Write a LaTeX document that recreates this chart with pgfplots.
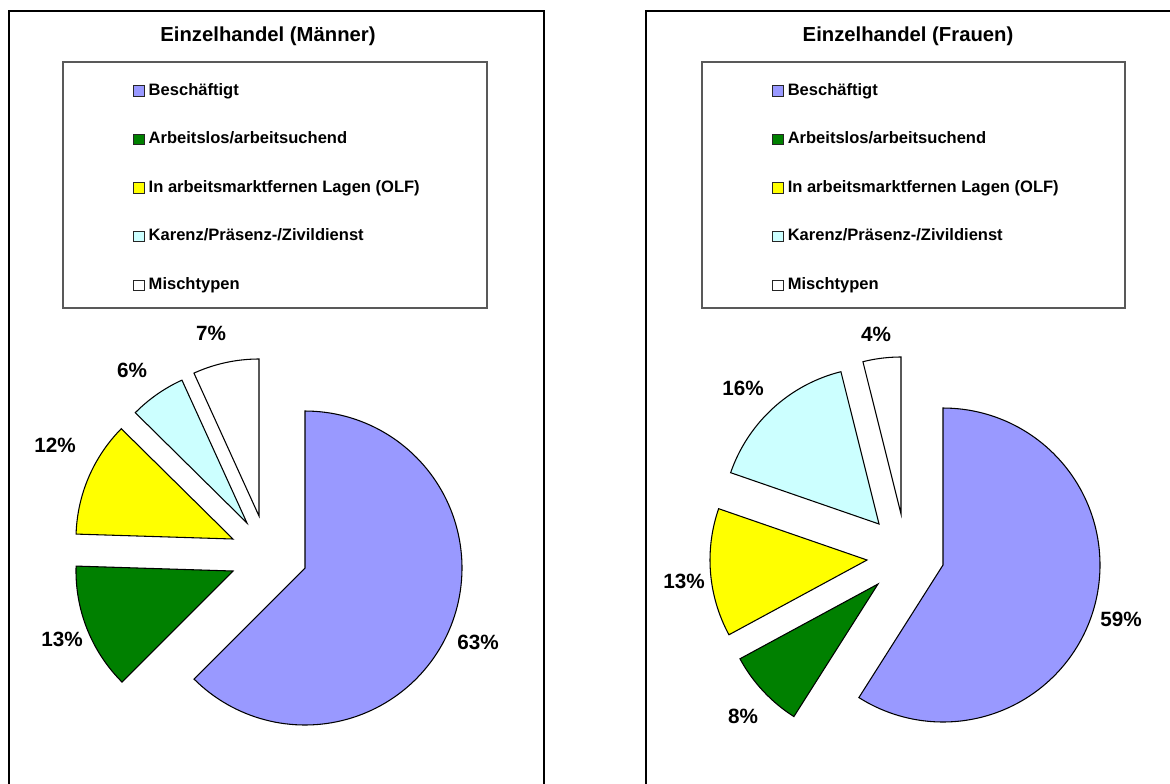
\documentclass[border=0pt]{standalone}
\usepackage{pgfplots}
\pgfplotsset{compat=1.18}
\usepackage{fontspec}
\setmainfont{Liberation Sans}
\definecolor{cB}{HTML}{9999FF}
\definecolor{cG}{HTML}{008000}
\definecolor{cY}{HTML}{FFFF00}
\definecolor{cC}{HTML}{CCFFFF}
\definecolor{cW}{HTML}{FFFFFF}
% shares in percent
% Maenner: Beschaeftigt, Arbeitslos, OLF, Karenz, Mischtypen
\def\LB{62.5}\def\LG{13.0}\def\LY{11.9}\def\LC{5.8}\def\LW{6.8}
% Frauen
\def\RB{59.0}\def\RG{8.1}\def\RY{13.2}\def\RC{15.8}\def\RW{3.9}
\pgfmathsetmacro\La{90-3.6*\LB}
\pgfmathsetmacro\Lb{\La-3.6*\LG}
\pgfmathsetmacro\Lc{\Lb-3.6*\LY}
\pgfmathsetmacro\Ld{\Lc-3.6*\LC}
\pgfmathsetmacro\Le{\Ld-3.6*\LW}
\pgfmathsetmacro\Ra{90-3.6*\RB}
\pgfmathsetmacro\Rb{\Ra-3.6*\RG}
\pgfmathsetmacro\Rc{\Rb-3.6*\RY}
\pgfmathsetmacro\Rd{\Rc-3.6*\RC}
\pgfmathsetmacro\Re{\Rd-3.6*\RW}
\tikzset{
  lab/.style={font=\bfseries\fontsize{15.5}{18}\selectfont, anchor=base},
  ttl/.style={font=\bfseries\fontsize{15.2}{18}\selectfont, anchor=base},
}
\pgfplotsset{
  panel/.style={
    width=877.5pt, height=587.25pt, scale only axis,
    xmin=0, xmax=1170, ymin=0, ymax=783, y dir=reverse,
    hide axis, clip=false,
    legend cell align=left,
    legend image code/.code={\draw[##1, draw=black!85, line width=0.6pt] (0pt,-3.9pt) rectangle (8.6pt,3.9pt);},
    legend style={draw=none, fill=none, inner sep=0pt, outer sep=0pt,
      row sep=24.4pt, column sep=2.6pt,
      font=\bfseries\fontsize{12.4}{14}\selectfont,
      nodes={inner sep=0pt, outer sep=0pt, text height=9pt, text depth=3pt}},
  },
  wedge/.style={draw=black, line width=0.8pt, samples=120, variable=\t},
}
\begin{document}
\begin{tikzpicture}
\begin{axis}[panel, name=A, legend style={at={(axis cs:133,83)}, anchor=north west}]
  \draw[line width=1.9pt] (9,800) -- (9,11) -- (544,11) -- (544,800);
  \draw[line width=1.2pt, black!65] (63,62) rectangle (487,308);
  \node[ttl] at (268,41) {Einzelhandel (Männer)};
  \addplot[wedge, fill=cB, domain=\La:90] ({305+157*cos(\t)},{568-157*sin(\t)}) -- (305,568) -- cycle;
  \addlegendentry{Beschäftigt}
  \addplot[wedge, fill=cG, domain=\Lb:\La] ({233+157*cos(\t)},{571-157*sin(\t)}) -- (233,571) -- cycle;
  \addlegendentry{Arbeitslos/arbeitsuchend}
  \addplot[wedge, fill=cY, domain=\Lc:\Lb] ({233+157*cos(\t)},{539-157*sin(\t)}) -- (233,539) -- cycle;
  \addlegendentry{In arbeitsmarktfernen Lagen (OLF)}
  \addplot[wedge, fill=cC, domain=\Ld:\Lc] ({247+157*cos(\t)},{523-157*sin(\t)}) -- (247,523) -- cycle;
  \addlegendentry{Karenz/Präsenz-/Zivildienst}
  \addplot[wedge, fill=cW, domain=\Le:\Ld] ({259+157*cos(\t)},{516-157*sin(\t)}) -- (259,516) -- cycle;
  \addlegendentry{Mischtypen}
  \node[lab] at (478,649) {63\%};
  \node[lab] at (62,646) {13\%};
  \node[lab] at (55,452) {12\%};
  \node[lab] at (132,377) {6\%};
  \node[lab] at (211,340) {7\%};
\end{axis}
\begin{axis}[panel, legend style={at={(axis cs:772,83)}, anchor=north west}]
  \draw[line width=1.9pt] (646,800) -- (646,11) -- (1200,11);
  \draw[line width=1.2pt, black!65] (702,62) rectangle (1125,308);
  \node[ttl] at (908,41) {Einzelhandel (Frauen)};
  \addplot[wedge, fill=cB, domain=\Ra:90] ({943+157*cos(\t)},{565-157*sin(\t)}) -- (943,565) -- cycle;
  \addlegendentry{Beschäftigt}
  \addplot[wedge, fill=cG, domain=\Rb:\Ra] ({878+157*cos(\t)},{584-157*sin(\t)}) -- (878,584) -- cycle;
  \addlegendentry{Arbeitslos/arbeitsuchend}
  \addplot[wedge, fill=cY, domain=\Rc:\Rb] ({867+157*cos(\t)},{560-157*sin(\t)}) -- (867,560) -- cycle;
  \addlegendentry{In arbeitsmarktfernen Lagen (OLF)}
  \addplot[wedge, fill=cC, domain=\Rd:\Rc] ({879+157*cos(\t)},{524-157*sin(\t)}) -- (879,524) -- cycle;
  \addlegendentry{Karenz/Präsenz-/Zivildienst}
  \addplot[wedge, fill=cW, domain=\Re:\Rd] ({901+157*cos(\t)},{514-157*sin(\t)}) -- (901,514) -- cycle;
  \addlegendentry{Mischtypen}
  \node[lab] at (1121,626) {59\%};
  \node[lab] at (743,723) {8\%};
  \node[lab] at (684,588) {13\%};
  \node[lab] at (743,395) {16\%};
  \node[lab] at (876,341) {4\%};
\end{axis}
\pgfresetboundingbox
\useasboundingbox (A.south west) rectangle (A.north east);
\end{tikzpicture}
\end{document}
